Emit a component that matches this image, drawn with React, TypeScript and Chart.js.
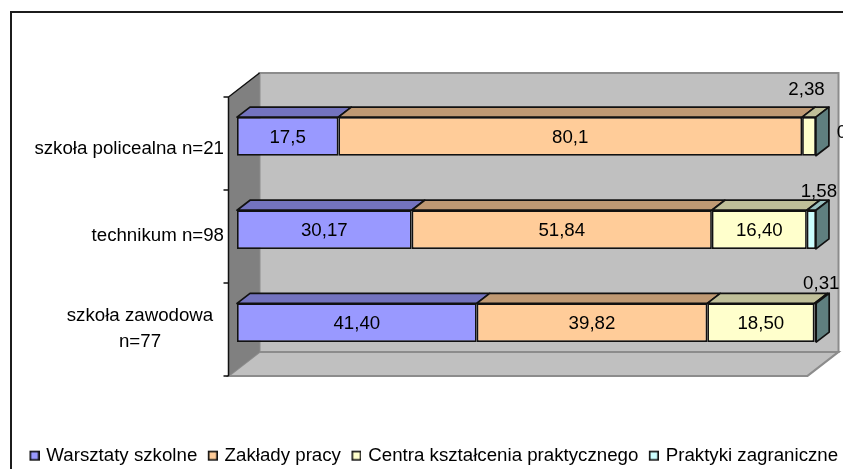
import React, { useEffect, useRef } from "react";
import { Chart, registerables } from "chart.js";

Chart.register(...registerables);

const categories = ["szkoła policealna n=21", "technikum n=98", "szkoła zawodowa|n=77"];
const warsztaty = [17.5, 30.17, 41.4];
const zaklady = [80.1, 51.84, 39.82];
const centra = [2.38, 16.4, 18.5];
const praktyki = [0, 1.58, 0.31];
const warsztatyText = ["17,5", "30,17", "41,40"];
const zakladyText = ["80,1", "51,84", "39,82"];
const centraText = ["2,38", "16,40", "18,50"];
const praktykiText = ["0", "1,58", "0,31"];
const seriesNames = ["Warsztaty szkolne", "Zakłady pracy", "Centra kształcenia praktycznego", "Praktyki zagraniczne"];
const seriesColors = ["#9999FF", "#FFCC99", "#FFFFCC", "#CCFFFF"];
const topColors = ["#7373BF", "#BF9973", "#BFBF99", "#99BFBF"];
const sideColor = "#5F7F7F";
const seriesValues = [warsztaty, zaklady, centra, praktyki];
const seriesText = [warsztatyText, zakladyText, centraText, praktykiText];

const FONT = '18.7px "Liberation Sans", Arial, sans-serif';
const INK = "#000000";

// label nudges for slivers: "series-row" -> [dx, dy] from the segment centre
const labelNudge: Record<string, [number, number]> = {
  "2-0": [-2.5, -48],
  "3-0": [26, -5],
  "3-1": [7.5, -39],
  "3-2": [6, -40],
};
const categoryNudge = [12, 6.5, 6];

function swatch(color: string) {
  const c = document.createElement("canvas");
  c.width = 12;
  c.height = 12;
  const g = c.getContext("2d")!;
  g.fillStyle = color;
  g.fillRect(2, 1, 10, 10);
  g.strokeStyle = "#111";
  g.lineWidth = 1.6;
  g.strokeRect(2.8, 1.8, 8.4, 8.4);
  return c;
}

const scene3d = {
  id: "scene3d",
  beforeDraw(chart: any) {
    const { ctx, width, height } = chart;
    ctx.save();
    ctx.fillStyle = "#fff";
    ctx.fillRect(0, 0, width, height);
    ctx.strokeStyle = "#1c1c1c";
    ctx.lineWidth = 2;
    ctx.beginPath();
    ctx.moveTo(11, height);
    ctx.lineTo(11, 12);
    ctx.lineTo(width, 12);
    ctx.stroke();
    ctx.restore();
  },
  beforeDatasetsDraw(chart: any) {
    const { ctx, chartArea, scales } = chart;
    const L = chartArea.left - 8.5;
    const R = scales.x.getPixelForValue(100) - 8.5;
    const T = chartArea.top + 7.2;
    const B = chartArea.bottom + 6.6;
    const dx = 31;
    const dy = -24;
    const poly = (pts: number[][], fill: string, stroke?: string, lw = 2) => {
      ctx.beginPath();
      pts.forEach((p, i) => (i ? ctx.lineTo(p[0], p[1]) : ctx.moveTo(p[0], p[1])));
      ctx.closePath();
      ctx.fillStyle = fill;
      ctx.fill();
      if (stroke) {
        ctx.strokeStyle = stroke;
        ctx.lineWidth = lw;
        ctx.stroke();
      }
    };
    ctx.save();
    poly([[L + dx, T + dy], [R + dx, T + dy], [R + dx, B + dy], [L + dx, B + dy]], "#C0C0C0", "#8c8c8c");
    poly([[L, B], [L + dx, B + dy], [R + dx, B + dy], [R, B]], "#C0C0C0", "#8c8c8c");
    poly([[L, T], [L + dx, T + dy], [L + dx, B + dy], [L, B]], "#808080");

    ctx.strokeStyle = "#111";
    ctx.lineWidth = 1.5;
    ctx.beginPath();
    ctx.moveTo(L + dx, T + dy);
    ctx.lineTo(L, T);
    ctx.lineTo(L, B);
    const n = categories.length;
    for (let i = 0; i <= n; i++) {
      const y = T + ((B - T) * i) / n;
      ctx.moveTo(L - 5, y);
      ctx.lineTo(L, y);
    }
    ctx.stroke();

    // bar tops and end faces
    const bx = 13;
    const by = -10;
    ctx.lineJoin = "round";
    for (let r = 0; r < n; r++) {
      let end: any = null;
      for (let s = 0; s < seriesValues.length; s++) {
        const el = chart.getDatasetMeta(s).data[r];
        const p = el.getProps(["x", "y", "base", "height"], true);
        const top = p.y - p.height / 2;
        const bot = p.y + p.height / 2;
        if (seriesValues[s][r] > 0) {
          poly([[p.base, top], [p.base + bx, top + by], [p.x + bx, top + by], [p.x, top]], topColors[s], "#111", 1.7);
        }
        end = { x: p.x, top, bot };
      }
      poly([[end.x, end.top], [end.x + bx, end.top + by], [end.x + bx, end.bot + by], [end.x, end.bot]], sideColor, "#111", 1.7);
    }
    ctx.restore();
  },
  afterDatasetsDraw(chart: any) {
    const { ctx } = chart;
    ctx.save();
    ctx.font = FONT;
    ctx.fillStyle = INK;
    ctx.textBaseline = "middle";
    ctx.textAlign = "center";
    seriesText.forEach((texts, s) => {
      const bars = chart.getDatasetMeta(s).data;
      texts.forEach((t, r) => {
        const p = bars[r].getProps(["x", "y", "base"], true);
        const nudge = labelNudge[`${s}-${r}`] || [0, 0];
        ctx.fillText(t, (p.x + p.base) / 2 + nudge[0], p.y + nudge[1] + 1);
      });
    });
    const right = chart.chartArea.left - 13;
    categories.forEach((label, r) => {
      const y = chart.scales.y.getPixelForValue(r) + categoryNudge[r];
      const lines = label.split("|");
      if (lines.length === 1) {
        ctx.textAlign = "right";
        ctx.fillText(lines[0], right, y);
      } else {
        ctx.textAlign = "center";
        lines.forEach((ln, i) => ctx.fillText(ln, 140, y + (i - (lines.length - 1) / 2) * 26));
      }
    });
    ctx.restore();
  },
};

export default function App() {
  const ref = useRef<HTMLCanvasElement>(null);
  useEffect(() => {
    document.body.style.margin = "0";
    const chart = new Chart(ref.current!, {
      type: "bar",
      data: {
        labels: categories.map((c) => c.replace("|", " ")),
        datasets: seriesNames.map((name, i) => ({
          label: name,
          data: seriesValues[i],
          backgroundColor: seriesColors[i],
          borderColor: "#111111",
          borderWidth: 1.7,
          borderSkipped: false,
          barPercentage: 0.415,
          categoryPercentage: 1,
        })),
      },
      options: {
        indexAxis: "y",
        animation: false,
        responsive: false,
        layout: { padding: { left: 19, top: 89.8, right: -20, bottom: -6 } },
        scales: {
          x: {
            stacked: true,
            min: 0,
            max: 104.66,
            ticks: { display: false },
            grid: { display: false },
            border: { display: false },
            afterFit: (s: any) => {
              s.height = 66;
            },
          },
          y: {
            stacked: true,
            ticks: { display: false },
            grid: { display: false },
            border: { display: false },
            afterFit: (s: any) => {
              s.width = 218;
            },
          },
        },
        plugins: {
          tooltip: { enabled: false },
          legend: {
            position: "bottom",
            align: "start",
            labels: {
              color: INK,
              font: { family: '"Liberation Sans", Arial, sans-serif', size: 18.7 },
              usePointStyle: true,
              pointStyleWidth: 7,
              padding: 11,
              generateLabels: (c: any) =>
                Chart.defaults.plugins.legend.labels.generateLabels(c).map((it: any, i: number) => ({
                  ...it,
                  pointStyle: swatch(seriesColors[i]),
                })),
            },
          },
        },
      } as any,
      plugins: [scene3d as any],
    });
    return () => chart.destroy();
  }, []);
  return (
    <div style={{ width: 843, height: 469, overflow: "hidden" }}>
      <canvas ref={ref} width={843} height={469} style={{ display: "block" }} />
    </div>
  );
}
